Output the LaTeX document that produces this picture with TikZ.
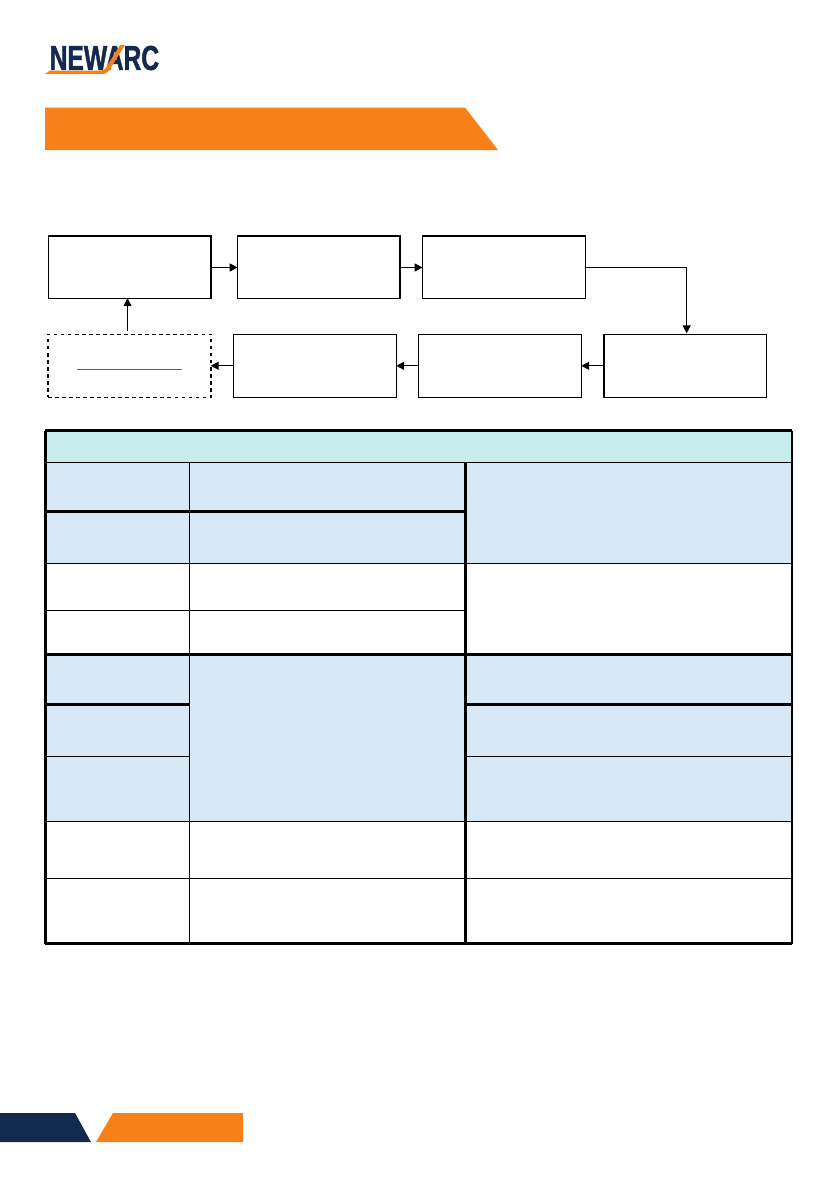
\documentclass[tikz,border=0pt]{standalone}
\usepackage{fontspec}
\setmainfont{Liberation Sans}
\newfontfamily\logofont[FakeBold=1.6]{Liberation Sans Bold}
\usepackage{xcolor}
\usetikzlibrary{arrows.meta,positioning}
\definecolor{arcorange}{HTML}{F78118}
\definecolor{arcnavy}{HTML}{14294F}
\definecolor{cellblue}{HTML}{D8E7F4}
\definecolor{cellteal}{HTML}{C6ECEB}
\definecolor{linkblue}{HTML}{3A62C0}
\tikzset{
    stepbox/.style={draw, line width=0.036cm, minimum width=4.89cm, minimum height=1.89cm, inner sep=0pt, outer sep=0pt},
    heavy/.style={line width=0.06cm},
    flow/.style={-{Triangle[length=0.24cm,width=0.24cm]}, line width=0.036cm, shorten >=-0.01cm},
    thinrule/.style={line width=0.036cm},
    thickrule/.style={line width=0.09cm}
}
\begin{document}
\begin{tikzpicture}[x=0.03cm,y=-0.03cm]
    \useasboundingbox (0,0) rectangle (840,1192);

    % Logo
    \node[inner sep=0pt, anchor=south west, text=arcnavy, font=\logofont\fontsize{29.5}{29.5}\selectfont] (logo) at (49.5,70.5) {\scalebox{0.712}[1]{NEWARC}};
    \fill[arcorange] (45,74) -- (50,70.5) -- (100,70.5) .. controls (104,70.5) and (105,69) .. (107,66) -- (120,45) -- (125,45) -- (110,69) .. controls (107,73) and (106,74) .. (101,74) -- cycle;

    % Title banner
    \fill[arcorange] (45,107.5) -- (465,107.5) -- (498,150) -- (45,150) -- cycle;

    % Process boxes, top row
    \node[stepbox] (collect) at (129.9,267) {};
    \node[stepbox] (sort) at (318.8,267) {};
    \node[stepbox] (store) at (503.8,267) {};
    % Process boxes, bottom row
    \node[stepbox] (ship) at (685.2,365.8) {};
    \node[stepbox] (fit) at (500,365.8) {};
    \node[stepbox] (check) at (315,365.8) {};
    \node[stepbox, dashed] (review) at (129.5,365.8) {};
    \draw[linkblue, line width=0.03cm] (77,369.5) -- (182,369.5);

    % Heavier edges
    \draw[heavy] (collect.north west) -- (collect.north east) -- (collect.south east);
    \draw[heavy] (sort.north west) -- (sort.north east) -- (sort.south east);
    \draw[heavy] (store.north west) -- (store.north east);
    \draw[heavy] (ship.north west) -- (ship.south west);

    % Connectors
    \coordinate (upstart) at (127.5,331);
    \draw[flow] ([yshift=-0.015cm]collect.east) -- ([yshift=-0.015cm]sort.west);
    \draw[flow] ([yshift=-0.015cm]sort.east) -- ([yshift=-0.015cm]store.west);
    \draw[flow] ([yshift=-0.015cm]store.east) -| ([xshift=0.045cm,yshift=0.04cm]ship.north);
    \draw[flow] (ship.west) -- (fit.east);
    \draw[flow] (fit.west) -- (check.east);
    \draw[flow] (check.west) -- (review.east);
    \draw[flow] (upstart) -- (upstart |- collect.south);

    % Table fills
    \fill[cellteal] (45,430.5) rectangle (791.5,462);
    \fill[cellblue] (45,462) rectangle (791.5,563.3);
    \fill[cellblue] (45,654) rectangle (791.5,821.3);

    % Table rules
    \draw[thinrule] (45,462.5) -- (791.5,462.5);
    \draw[thinrule] (45,563.5) -- (791.5,563.5);
    \draw[thinrule] (45,610.5) -- (465,610.5);
    \draw[thickrule] (45,511.7) -- (465,511.7);
    \draw[thickrule] (45,654) -- (791.5,654);
    \draw[thickrule] (45,704.7) -- (189.5,704.7);
    \draw[thickrule] (465,704.7) -- (791.5,704.7);
    \draw[thinrule] (45,756.5) -- (189.5,756.5);
    \draw[thinrule] (465,756.5) -- (791.5,756.5);
    \draw[thinrule] (45,821.5) -- (791.5,821.5);
    \draw[thinrule] (45,878.5) -- (791.5,878.5);
    \draw[thinrule] (189.5,462) -- (189.5,943.5);
    \draw[thickrule] (465,462) -- (465,943.5);
    \draw[thickrule] (45,430.5) -- (791.5,430.5);
    \draw[thickrule] (45,430.5) -- (45,943.5);
    \draw[line width=0.06cm] (791.5,430.5) -- (791.5,943.5);
    \draw[thickrule] (45,943.5) -- (791.5,943.5);

    % Footer
    \fill[arcnavy] (0,1113) -- (75,1113) -- (91,1142) -- (0,1142) -- cycle;
    \fill[arcorange] (113,1113) -- (243,1113) -- (243,1142) -- (96,1142) -- cycle;
\end{tikzpicture}
\end{document}
